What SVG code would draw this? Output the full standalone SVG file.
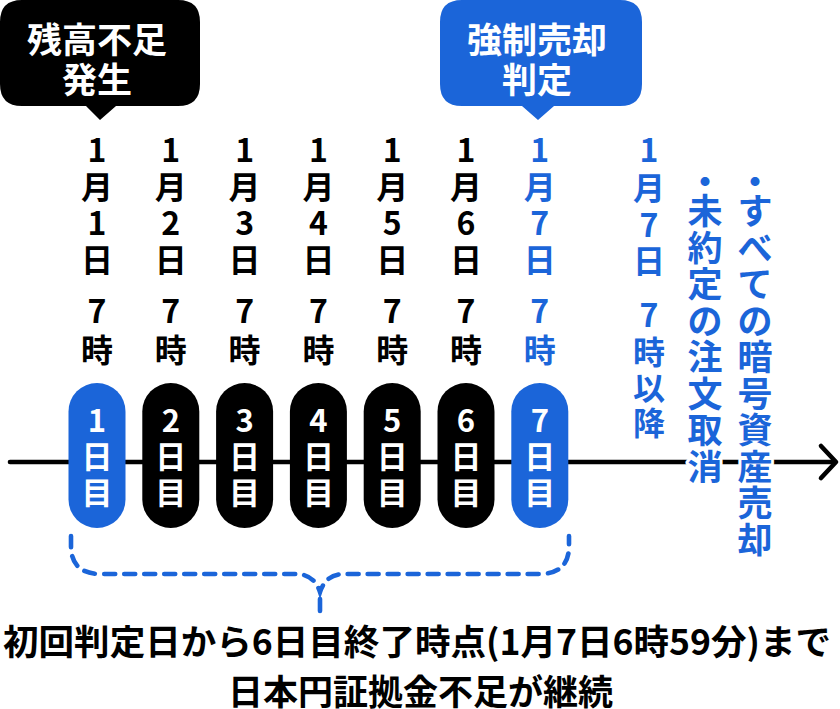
<svg xmlns="http://www.w3.org/2000/svg" width="840" height="709" viewBox="0 0 840 709">
<style>
text{font-family:"Noto Sans CJK JP","Noto Sans",sans-serif;font-weight:700;text-anchor:middle}
.blk{fill:#000}
.blu{fill:#1b65d9}
.wht{fill:#fff}
.d{font-size:32px}
.p{font-size:31px;fill:#fff}
.c{font-size:35px;fill:#fff}
.n{font-size:35px;fill:#1b65d9;stroke:#fff;stroke-width:6;stroke-linejoin:round;paint-order:stroke}
.f{font-size:35px;fill:#000;text-anchor:start}
</style>
<rect width="840" height="709" fill="#fff"/>

<g id="connectors">
  <line x1="10" y1="462" x2="835" y2="462" stroke="#000" stroke-width="4.6" stroke-linecap="round"/>
  <polyline points="821,446 836,462 821,478" fill="none" stroke="#000" stroke-width="4.6" stroke-linecap="round" stroke-linejoin="round"/>
</g>

<g id="callout-zandaka">
  <path d="M22,0 H178 Q200,0 200,22 V84 Q200,106 178,106 H116 L100,120 L86,106 H22 Q0,106 0,84 V22 Q0,0 22,0 Z" fill="#000"/>
  <text class="c" x="97" y="53">残高不足</text>
  <text class="c" x="97" y="93">発生</text>
</g>

<g id="callout-kyosei">
  <path d="M462,0 H620 Q642,0 642,22 V84 Q642,106 620,106 H554 L538,120 L522,106 H462 Q440,106 440,84 V22 Q440,0 462,0 Z" fill="#1b65d9"/>
  <text class="c" x="537" y="53">強制売却</text>
  <text class="c" x="537" y="93">判定</text>
</g>

<g id="date-1"><text class="d blk"><tspan x="97" y="162">1</tspan><tspan x="97" y="199">月</tspan><tspan x="97" y="235">1</tspan><tspan x="97" y="272">日</tspan><tspan x="97" y="323">7</tspan><tspan x="97" y="362">時</tspan></text></g>
<g id="date-2"><text class="d blk"><tspan x="170.8" y="162">1</tspan><tspan x="170.8" y="199">月</tspan><tspan x="170.8" y="235">2</tspan><tspan x="170.8" y="272">日</tspan><tspan x="170.8" y="323">7</tspan><tspan x="170.8" y="362">時</tspan></text></g>
<g id="date-3"><text class="d blk"><tspan x="244.6" y="162">1</tspan><tspan x="244.6" y="199">月</tspan><tspan x="244.6" y="235">3</tspan><tspan x="244.6" y="272">日</tspan><tspan x="244.6" y="323">7</tspan><tspan x="244.6" y="362">時</tspan></text></g>
<g id="date-4"><text class="d blk"><tspan x="318.4" y="162">1</tspan><tspan x="318.4" y="199">月</tspan><tspan x="318.4" y="235">4</tspan><tspan x="318.4" y="272">日</tspan><tspan x="318.4" y="323">7</tspan><tspan x="318.4" y="362">時</tspan></text></g>
<g id="date-5"><text class="d blk"><tspan x="392.2" y="162">1</tspan><tspan x="392.2" y="199">月</tspan><tspan x="392.2" y="235">5</tspan><tspan x="392.2" y="272">日</tspan><tspan x="392.2" y="323">7</tspan><tspan x="392.2" y="362">時</tspan></text></g>
<g id="date-6"><text class="d blk"><tspan x="466" y="162">1</tspan><tspan x="466" y="199">月</tspan><tspan x="466" y="235">6</tspan><tspan x="466" y="272">日</tspan><tspan x="466" y="323">7</tspan><tspan x="466" y="362">時</tspan></text></g>
<g id="date-7"><text class="d blu"><tspan x="539.8" y="162">1</tspan><tspan x="539.8" y="199">月</tspan><tspan x="539.8" y="235">7</tspan><tspan x="539.8" y="272">日</tspan><tspan x="539.8" y="323">7</tspan><tspan x="539.8" y="362">時</tspan></text></g>
<g id="date-8"><text class="d blu"><tspan x="649" y="162">1</tspan><tspan x="649" y="200">月</tspan><tspan x="649" y="237">7</tspan><tspan x="649" y="273">日</tspan><tspan x="649" y="327">7</tspan><tspan x="649" y="364">時</tspan><tspan x="649" y="400">以</tspan><tspan x="649" y="435">降</tspan></text></g>

<g id="pill-1"><rect x="68.5" y="383" width="57" height="145" rx="28.5" fill="#1b65d9"/><text class="p"><tspan x="97" y="432">1</tspan><tspan x="97" y="468">日</tspan><tspan x="97" y="504">目</tspan></text></g>
<g id="pill-2"><rect x="142.3" y="383" width="57" height="145" rx="28.5" fill="#000"/><text class="p"><tspan x="170.8" y="432">2</tspan><tspan x="170.8" y="468">日</tspan><tspan x="170.8" y="504">目</tspan></text></g>
<g id="pill-3"><rect x="216.1" y="383" width="57" height="145" rx="28.5" fill="#000"/><text class="p"><tspan x="244.6" y="432">3</tspan><tspan x="244.6" y="468">日</tspan><tspan x="244.6" y="504">目</tspan></text></g>
<g id="pill-4"><rect x="289.9" y="383" width="57" height="145" rx="28.5" fill="#000"/><text class="p"><tspan x="318.4" y="432">4</tspan><tspan x="318.4" y="468">日</tspan><tspan x="318.4" y="504">目</tspan></text></g>
<g id="pill-5"><rect x="363.7" y="383" width="57" height="145" rx="28.5" fill="#000"/><text class="p"><tspan x="392.2" y="432">5</tspan><tspan x="392.2" y="468">日</tspan><tspan x="392.2" y="504">目</tspan></text></g>
<g id="pill-6"><rect x="437.5" y="383" width="57" height="145" rx="28.5" fill="#000"/><text class="p"><tspan x="466" y="432">6</tspan><tspan x="466" y="468">日</tspan><tspan x="466" y="504">目</tspan></text></g>
<g id="pill-7"><rect x="511.3" y="383" width="57" height="145" rx="28.5" fill="#1b65d9"/><text class="p"><tspan x="539.8" y="432">7</tspan><tspan x="539.8" y="468">日</tspan><tspan x="539.8" y="504">目</tspan></text></g>

<g id="note-cancel"><text class="n"><tspan x="705" y="195">・</tspan><tspan x="705" y="224">未</tspan><tspan x="705" y="260.5">約</tspan><tspan x="705" y="297">定</tspan><tspan x="705" y="333.5">の</tspan><tspan x="705" y="370">注</tspan><tspan x="705" y="406.5">文</tspan><tspan x="705" y="443">取</tspan><tspan x="705" y="479.5">消</tspan></text></g>
<g id="note-sell"><text class="n"><tspan x="755" y="195">・</tspan><tspan x="755" y="224">す</tspan><tspan x="755" y="260.5">べ</tspan><tspan x="755" y="297">て</tspan><tspan x="755" y="333.5">の</tspan><tspan x="755" y="370">暗</tspan><tspan x="755" y="406.5">号</tspan><tspan x="755" y="443">資</tspan><tspan x="755" y="479.5">産</tspan><tspan x="755" y="516">売</tspan><tspan x="755" y="552.5">却</tspan></text></g>

<g id="brace">
  <path d="M71,536 V546 Q71,574 101,574 H296 Q314,574 320,592 Q326,574 344,574 H539 Q569,574 569,546 V536" fill="none" stroke="#1b65d9" stroke-width="4.6" stroke-linecap="round" stroke-dasharray="11 9"/>
  <line x1="320" y1="599" x2="320" y2="611" stroke="#1b65d9" stroke-width="4.6" stroke-linecap="round"/>
</g>

<g id="footer">
  <text class="f" x="3" y="655" textLength="828" lengthAdjust="spacingAndGlyphs">初回判定日から6日目終了時点(1月7日6時59分)まで</text>
  <text class="f" x="228" y="705" textLength="385" lengthAdjust="spacingAndGlyphs">日本円証拠金不足が継続</text>
</g>
</svg>
